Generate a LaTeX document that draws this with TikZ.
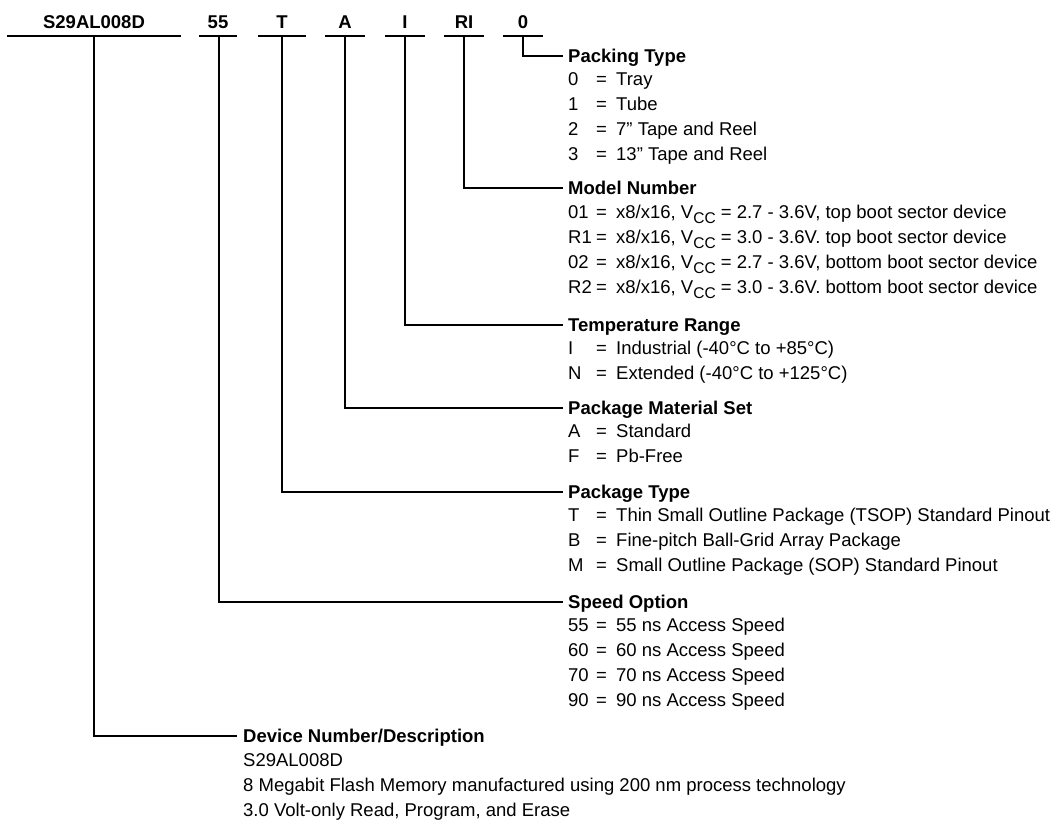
\documentclass[tikz,border=0pt]{standalone}
\usepackage{fontspec}
\setmainfont{Liberation Sans}
\newcommand\fsz{\fontsize{18.5}{22}\selectfont}
\newcommand\vcc{V\raisebox{-4.5pt}{\fontsize{15.5}{15.5}\selectfont CC}}
\tikzset{
  lbl/.style={anchor=base, inner sep=0pt, font=\fsz\bfseries},
  head/.style={anchor=base west, inner sep=0pt, font=\fsz\bfseries},
  txt/.style={anchor=base west, inner sep=0pt, font=\fsz},
  topline/.style={line width=1.8pt},
  conn/.style={line width=1.2pt},
}
% \itemrow{name}{baseline y}{code}{description}
\newcommand\itemrow[4]{%
  \node[txt] (#1c) at (568,#2) {#3};
  \node[txt] (#1e) at (596,#2) {=};
  \node[txt] (#1d) at (616,#2) {#4};
}
\begin{document}
\begin{tikzpicture}[x=1pt,y=-1pt]
\useasboundingbox (0,0) rectangle (1057,820);
\fill[white] (0,0) rectangle (1057,820);

% top labels
\node[lbl] (lS)  at (94,28)  {S29AL008D};
\node[lbl] (l55) at (218,28) {55};
\node[lbl] (lT)  at (282,28) {T};
\node[lbl] (lA)  at (345,28) {A};
\node[lbl] (lI)  at (405,28) {I};
\node[lbl] (lR)  at (464,28) {RI};
\node[lbl] (l0)  at (523,28) {0};

% top lines
\coordinate (aS) at (7,36);   \coordinate (bS) at (181,36);
\coordinate (a55) at (199,36); \coordinate (b55) at (237,36);
\coordinate (aT) at (258,36); \coordinate (bT) at (306,36);
\coordinate (aA) at (325,36); \coordinate (bA) at (365,36);
\coordinate (aI) at (385,36); \coordinate (bI) at (425,36);
\coordinate (aR) at (444,36); \coordinate (bR) at (484,36);
\coordinate (a0) at (503,36); \coordinate (b0) at (543,36);
\foreach \k in {S,55,T,A,I,R,0} {\draw[topline] (a\k) -- (b\k);}

% drop points
\coordinate (dS) at (94,36);
\coordinate (d55) at (219,36);
\coordinate (dT) at (282,36);
\coordinate (dA) at (345,36);
\coordinate (dI) at (405,36);
\coordinate (dR) at (464,36);
\coordinate (d0) at (523,36);

% heading line ends
\coordinate (e0) at (563,56);
\coordinate (eR) at (563,188);
\coordinate (eI) at (563,325);
\coordinate (eA) at (563,408);
\coordinate (eT) at (563,492);
\coordinate (e55) at (563,602);
\coordinate (eS) at (237,736);

\foreach \k in {S,55,T,A,I,R,0} {\draw[conn] (d\k) |- (e\k);}

% Packing Type
\node[head] (h0) at (568,62) {Packing Type};
\itemrow{p0}{85}{0}{Tray}
\itemrow{p1}{110}{1}{Tube}
\itemrow{p2}{135}{2}{7” Tape and Reel}
\itemrow{p3}{160}{3}{13” Tape and Reel}

% Model Number
\node[head] (hR) at (568,194) {Model Number};
\itemrow{m1}{218.5}{01}{x8/x16, \vcc{} = 2.7 - 3.6V, top boot sector device}
\itemrow{m2}{243.5}{R1}{x8/x16, \vcc{} = 3.0 - 3.6V. top boot sector device}
\itemrow{m3}{268.5}{02}{x8/x16, \vcc{} = 2.7 - 3.6V, bottom boot sector device}
\itemrow{m4}{293.5}{R2}{x8/x16, \vcc{} = 3.0 - 3.6V. bottom boot sector device}

% Temperature Range
\node[head] (hI) at (568,331) {Temperature Range};
\itemrow{t1}{354}{I}{Industrial (-40°C to +85°C)}
\itemrow{t2}{379}{N}{Extended (-40°C to +125°C)}

% Package Material Set
\node[head] (hA) at (568,414) {Package Material Set};
\itemrow{a1}{437}{A}{Standard}
\itemrow{a2}{462}{F}{Pb-Free}

% Package Type
\node[head] (hT) at (568,498) {Package Type};
\itemrow{k1}{521.5}{T}{Thin Small Outline Package (TSOP) Standard Pinout}
\itemrow{k2}{546.5}{B}{Fine-pitch Ball-Grid Array Package}
\itemrow{k3}{571.5}{M}{Small Outline Package (SOP) Standard Pinout}

% Speed Option
\node[head] (h55) at (568,608) {Speed Option};
\itemrow{s1}{631.5}{55}{55 ns Access Speed}
\itemrow{s2}{656.5}{60}{60 ns Access Speed}
\itemrow{s3}{681.5}{70}{70 ns Access Speed}
\itemrow{s4}{706.5}{90}{90 ns Access Speed}

% Device Number/Description
\node[head] (hS) at (243,742) {Device Number/Description};
\node[txt] (ds1) at (243,766) {S29AL008D};
\node[txt] (ds2) at (243,791) {8 Megabit Flash Memory manufactured using 200 nm process technology};
\node[txt] (ds3) at (243,816) {3.0 Volt-only Read, Program, and Erase};
\end{tikzpicture}
\end{document}
